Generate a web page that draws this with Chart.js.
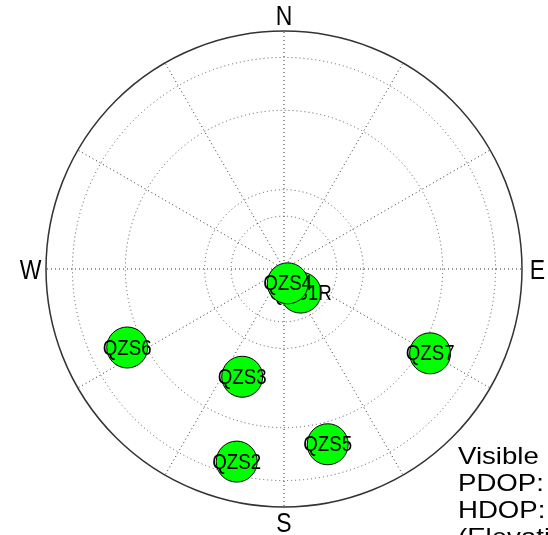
<!DOCTYPE html>
<html><head><meta charset="utf-8">
<script src="https://cdn.jsdelivr.net/npm/chart.js@4"></script>
<style>html,body{margin:0;padding:0;background:#fff;overflow:hidden}#wrap{width:548px;height:535px;position:relative}</style>
</head><body><div id="wrap"><canvas id="c"></canvas></div>
<script>
// Satellites (drawing priority: first = on top)
const satNames   = ['QZS4', 'QZS1R', 'QZS6', 'QZS3', 'QZS2', 'QZS5', 'QZS7'];
const azimuths   = [165.5, 144.9, 243.4, 201.2, 193.8, 166.0, 120.0]; // deg, clockwise from N
const elevations = [84.4, 79.1, 23.7, 46.3, 15.0, 21.7, 26.2];        // deg
// Grid
const elevationRings = [10, 30, 60, 70];
const azimuthSpokes  = [0, 30, 60, 90, 120, 150, 180, 210, 240, 270, 300, 330];
const compassLabels  = ['N', 'E', 'S', 'W'];
const compassAzimuths = [0, 90, 180, 270];
const infoLines = ['Visible', 'PDOP:', 'HDOP:', '(Elevation'];

const toXY = (az, el) => {
  const r = (90 - el) / 90, a = az * Math.PI / 180;
  return { x: r * Math.sin(a), y: r * Math.cos(a) };
};

const datasets = satNames.map((n, i) => ({
  label: n,
  data: [toXY(azimuths[i], elevations[i])],
  pointRadius: 20.5,
  pointHoverRadius: 20.5,
  pointBackgroundColor: '#00ff00',
  pointBorderColor: '#000',
  pointBorderWidth: 1
}));

const skyPlot = {
  id: 'skyPlot',
  beforeDatasetsDraw(chart) {
    const { ctx, scales: { x, y } } = chart;
    const cx = x.getPixelForValue(0), cy = y.getPixelForValue(0);
    const R = x.getPixelForValue(1) - cx;
    ctx.save();
    ctx.lineWidth = 1;
    ctx.setLineDash([1, 3]);
    ctx.strokeStyle = '#555';
    elevationRings.forEach(el => {
      ctx.beginPath(); ctx.arc(cx, cy, R * (90 - el) / 90, 0, 2 * Math.PI); ctx.stroke();
    });
    ctx.strokeStyle = '#333';
    azimuthSpokes.forEach(az => {
      const a = az * Math.PI / 180;
      ctx.beginPath(); ctx.moveTo(cx, cy);
      ctx.lineTo(x.getPixelForValue(Math.sin(a)), y.getPixelForValue(Math.cos(a)));
      ctx.stroke();
    });
    ctx.setLineDash([]);
    ctx.strokeStyle = '#333'; ctx.lineWidth = 1.5;
    ctx.beginPath(); ctx.arc(cx, cy, R, 0, 2 * Math.PI); ctx.stroke();
    // compass labels
    ctx.fillStyle = '#000';
    ctx.font = '28px "Liberation Sans"';
    ctx.textAlign = 'center'; ctx.textBaseline = 'alphabetic';
    compassLabels.forEach((t, i) => {
      const a = compassAzimuths[i] * Math.PI / 180;
      const px = x.getPixelForValue(1.065 * Math.sin(a));
      const py = y.getPixelForValue(1.065 * Math.cos(a));
      const m = ctx.measureText(t);
      const h = m.actualBoundingBoxAscent;
      ctx.save();
      ctx.translate(px, py + h / 2);
      ctx.scale(0.82, 1);
      ctx.fillText(t, 0, 0);
      ctx.restore();
    });
    // info text
    ctx.textAlign = 'left';
    ctx.font = '24px "Liberation Sans"';
    infoLines.forEach((t, i) => {
      ctx.save();
      ctx.translate(458, 464 + i * 27);
      ctx.scale(1.15, 1);
      ctx.fillText(t, 0, 0);
      ctx.restore();
    });
    ctx.restore();
  },
  afterDatasetDraw(chart, args) {
    const { ctx } = chart;
    const pt = args.meta.data[0];
    if (!pt) return;
    ctx.save();
    ctx.fillStyle = '#000';
    ctx.font = '22px "Liberation Sans"';
    ctx.textAlign = 'center'; ctx.textBaseline = 'middle';
    ctx.translate(pt.x, pt.y + 1);
    ctx.scale(0.85, 1);
    ctx.fillText(satNames[args.index], 0, 0);
    ctx.restore();
  }
};

new Chart(document.getElementById('c'), {
  type: 'scatter',
  data: { datasets },
  options: {
    responsive: true,
    maintainAspectRatio: false,
    devicePixelRatio: 1,
    animation: false,
    events: [],
    layout: { padding: { left: 46, right: 26, top: 31, bottom: 28 } },
    scales: {
      x: { type: 'linear', min: -1, max: 1, display: false },
      y: { type: 'linear', min: -1, max: 1, display: false }
    },
    plugins: { legend: { display: false }, tooltip: { enabled: false } }
  },
  plugins: [skyPlot]
});
</script></body></html>
